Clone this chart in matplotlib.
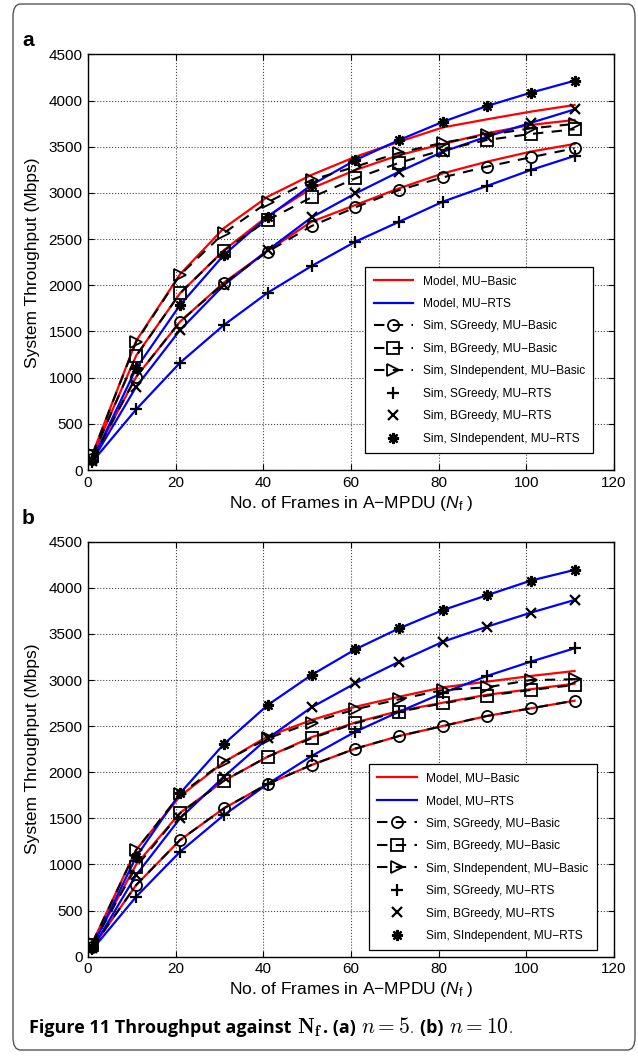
import numpy as np
import matplotlib
matplotlib.use("Agg")
import matplotlib.pyplot as plt
from matplotlib.patches import FancyBboxPatch

plt.rcParams['font.family'] = ['Liberation Sans', 'DejaVu Sans']
plt.rcParams['mathtext.fontset'] = 'custom'
plt.rcParams['mathtext.rm'] = 'Liberation Sans'
plt.rcParams['mathtext.it'] = 'Liberation Sans:italic'
plt.rcParams['mathtext.bf'] = 'Liberation Sans:bold'

# ===================== data =====================
nf = [1, 11, 21, 31, 41, 51, 61, 71, 81, 91, 101, 111]

# panel (a), n = 5
a_model_basic_sind = [170, 1400, 2120, 2620, 2960, 3196, 3392, 3556, 3711, 3798, 3881, 3953]
a_model_basic_bgr = [150, 1240, 1914, 2380, 2750, 3051, 3249, 3411, 3531, 3647, 3737, 3791]
a_model_basic_sgr = [120, 1010, 1606, 2030, 2375, 2689, 2870, 3051, 3213, 3339, 3448, 3531]
a_sim_basic_sgr = [120, 1010, 1606, 2022, 2364, 2642, 2845, 3032, 3170, 3285, 3387, 3484]
a_sim_basic_bgr = [150, 1235, 1914, 2375, 2708, 2953, 3158, 3327, 3466, 3574, 3639, 3690]
a_sim_basic_sind = [170, 1390, 2112, 2566, 2900, 3141, 3285, 3436, 3545, 3628, 3700, 3748]
a_sim_rts_sgr = [90, 657, 1162, 1570, 1920, 2209, 2473, 2689, 2907, 3076, 3249, 3401]
a_sim_rts_bgr = [100, 902, 1516, 2003, 2380, 2736, 2995, 3231, 3448, 3610, 3760, 3905]
a_sim_rts_sind = [110, 1101, 1787, 2329, 2743, 3087, 3357, 3574, 3772, 3942, 4086, 4216]

# panel (b), n = 10
b_model_basic_sind = [150, 1160, 1740, 2110, 2390, 2566, 2710, 2819, 2921, 2982, 3044, 3098]
b_model_basic_bgr = [130, 1000, 1560, 1908, 2169, 2380, 2540, 2665, 2755, 2840, 2900, 2960]
b_model_basic_sgr = [100, 778, 1265, 1609, 1873, 2079, 2256, 2393, 2502, 2610, 2693, 2776]
b_sim_basic_sgr = [100, 778, 1265, 1609, 1873, 2079, 2256, 2393, 2502, 2610, 2693, 2776]
b_sim_basic_bgr = [130, 976, 1555, 1908, 2169, 2368, 2531, 2657, 2747, 2830, 2892, 2946]
b_sim_basic_sind = [150, 1157, 1760, 2114, 2368, 2538, 2683, 2791, 2892, 2921, 3000, 3008]
b_sim_rts_sgr = [80, 651, 1138, 1536, 1873, 2176, 2440, 2657, 2860, 3044, 3199, 3344]
b_sim_rts_bgr = [90, 886, 1500, 1952, 2368, 2704, 2965, 3199, 3416, 3578, 3730, 3868]
b_sim_rts_sind = [110, 1084, 1772, 2306, 2729, 3055, 3333, 3561, 3759, 3919, 4078, 4194]

legend_labels = ['Model, MU\u2212Basic', 'Model, MU\u2212RTS',
                 'Sim, SGreedy, MU\u2212Basic', 'Sim, BGreedy, MU\u2212Basic',
                 'Sim, SIndependent, MU\u2212Basic', 'Sim, SGreedy, MU\u2212RTS',
                 'Sim, BGreedy, MU\u2212RTS', 'Sim, SIndependent, MU\u2212RTS']

ASTERISK = (8, 2, 0)


def draw_panel(ax, model_basic, sim_basic, sim_rts, leg_anchor):
    # model lines (red = MU-Basic, blue = MU-RTS, the latter passing through the RTS sims)
    h_red = None
    for ys in model_basic:
        h_red, = ax.plot(nf, ys, color='#ff0000', lw=1.6, zorder=2)
    h_blue = None
    for ys in sim_rts:
        h_blue, = ax.plot(nf, ys, color='#0000ff', lw=1.6, zorder=2)

    # simulations, MU-Basic: dashed black with open markers
    hb = []
    for ys, m in zip(sim_basic, ['o', 's', '>']):
        h, = ax.plot(nf, ys, color='black', ls=(0, (5, 4)), lw=1.5, marker=m,
                     ms=8, mfc='none', mec='black', mew=1.3, zorder=3)
        hb.append(h)
    # simulations, MU-RTS: markers only
    hr = []
    for ys, m, ms in zip(sim_rts, ['+', 'x', ASTERISK], [8, 6.5, 8]):
        h, = ax.plot(nf, ys, ls='none', marker=m, ms=ms, color='black',
                     mew=1.6, zorder=4)
        hr.append(h)

    ax.set_xlim(0, 120)
    ax.set_ylim(0, 4500)
    ax.set_xticks(np.arange(0, 121, 20))
    ax.set_yticks(np.arange(0, 4501, 500))
    ax.grid(True, ls=':', color='#444444', lw=0.8)
    ax.tick_params(direction='in', top=True, right=True, length=4,
                   labelsize=11, width=0.8, pad=4)
    for s in ax.spines.values():
        s.set_linewidth(1.0)
    ax.set_xlabel(r'No. of Frames in A$-$MPDU ($N_{\mathrm{f}}$ )', fontsize=12.5, labelpad=3)
    ax.set_ylabel('System Throughput (Mbps)', fontsize=12.5, labelpad=6)

    leg = ax.legend([h_red, h_blue] + hb + hr, legend_labels, loc='upper left',
                    bbox_to_anchor=leg_anchor, fontsize=8.6, frameon=True,
                    fancybox=False, edgecolor='black', framealpha=1,
                    handlelength=3.3, handletextpad=0.8, labelspacing=0.88,
                    borderpad=0.7, borderaxespad=0)
    leg.get_frame().set_linewidth(0.9)
    return leg


W, H = 638, 1056
fig = plt.figure(figsize=(W / 100, H / 100), dpi=100)

# outer rounded frame
frame = FancyBboxPatch((13 / W, 6 / H), (635 - 13) / W, (1052 - 6) / H,
                       boxstyle='round,pad=0,rounding_size=0.012',
                       transform=fig.transFigure, fc='white', ec='#555555',
                       lw=1.0, zorder=-10)
fig.patches.append(frame)

ax_a = fig.add_axes([88 / W, 1 - 470 / H, 526 / W, 415.5 / H])
draw_panel(ax_a,
           [a_model_basic_sgr, a_model_basic_bgr, a_model_basic_sind],
           [a_sim_basic_sgr, a_sim_basic_bgr, a_sim_basic_sind],
           [a_sim_rts_sgr, a_sim_rts_bgr, a_sim_rts_sind],
           (0.527, 0.489))

ax_b = fig.add_axes([88 / W, 1 - 956.7 / H, 526 / W, 415 / H])
draw_panel(ax_b,
           [b_model_basic_sgr, b_model_basic_bgr, b_model_basic_sind],
           [b_sim_basic_sgr, b_sim_basic_bgr, b_sim_basic_sind],
           [b_sim_rts_sgr, b_sim_rts_bgr, b_sim_rts_sind],
           (0.534, 0.464))

fig.text(22 / W, 1 - 46 / H, 'a', fontsize=15, fontweight='bold', va='baseline')
fig.text(22 / W, 1 - 524 / H, 'b', fontsize=15, fontweight='bold', va='baseline')

# caption, drawn in pieces so bold / italic parts sit next to each other
renderer = fig.canvas.get_renderer()
cap_font = ['Open Sans', 'DejaVu Sans']
pieces = [
    ('Figure 11 Throughput against ', dict(fontweight='bold', family=cap_font, fontsize=13)),
    (r'$\mathbf{N}_{\mathbf{f}}$', dict(math_fontfamily='cm', fontsize=15.5)),
    ('. (a) ', dict(fontweight='bold', family=cap_font, fontsize=13)),
    (r'$n = 5$', dict(math_fontfamily='cm', fontsize=15.5)),
    ('. ', dict(family=cap_font, fontweight='light', fontsize=13)),
    ('(b) ', dict(fontweight='bold', family=cap_font, fontsize=13)),
    (r'$n = 10$', dict(math_fontfamily='cm', fontsize=15.5)),
    ('.', dict(family=cap_font, fontweight='light', fontsize=13)),
]
x = 29 / W
y = 1 - 1033 / H
for s, kw in pieces:
    t = fig.text(x, y, s, va='baseline', **kw)
    bb = t.get_window_extent(renderer=renderer)
    x += bb.width / W
    if s.endswith(' '):
        x += 1 / W

fig.savefig('out.png', dpi=100, facecolor='white')
